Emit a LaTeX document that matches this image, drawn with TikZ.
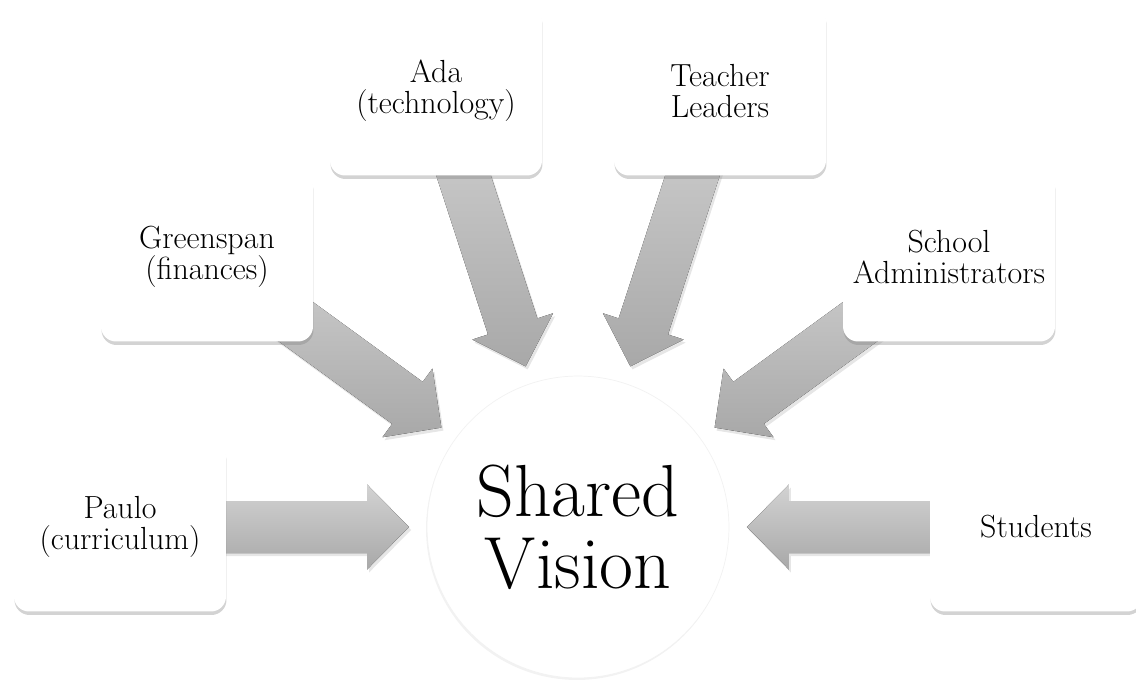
\documentclass[tikz,border=0pt]{standalone}
\usetikzlibrary{calc,shadows,backgrounds}

\begin{document}
\begin{tikzpicture}[x=0.02cm, y=-0.02cm,
    box/.style={rectangle, rounded corners=0.3cm, fill=white, minimum width=4.24cm,
      minimum height=3.38cm, align=center, font=\fontsize{18.2}{17.5}\selectfont,
      drop shadow={shadow xshift=0.01cm, shadow yshift=-0.07cm, opacity=0.35}},
    hub/.style={circle, fill=white, draw=gray!10, minimum size=6.04cm, inner sep=0pt,
      align=center, font=\fontsize{42}{41}\selectfont,
      drop shadow={shadow xshift=-0.02cm, shadow yshift=-0.04cm, opacity=0.1}},
    feed/.style={top color=gray!35, bottom color=gray!68,
      drop shadow={shadow xshift=0.04cm, shadow yshift=-0.06cm, opacity=0.2}}]
      \useasboundingbox (0,0) rectangle (1136,680);

      % Nodes
      \node[hub] (vision) at (578,527) {Shared\\Vision};
      \node[box] (paulo) at (120,527) {Paulo\\(curriculum)};
      \node[box] (greenspan) at (207,257) {Greenspan\\(finances)};
      \node[box] (ada) at (436,91) {Ada\\(technology)};
      \node[box] (teacher) at (720,91) {Teacher\\Leaders};
      \node[box] (school) at (949,257) {School\\Administrators};
      \node[box] (students) at (1036,527) {Students};

      % Arrows
      \begin{scope}[on background layer]
      \foreach \src in {paulo,greenspan,ada,teacher,school,students}
        \fill[feed] ($(vision)!3.38cm!(\src)$)
          -- ($(vision)!4.22cm!(\src)!0.85cm!90:(vision)$)
          -- ($(vision)!4.22cm!(\src)!0.52cm!90:(vision)$)
          -- ($(\src)!0.52cm!90:(vision)$)
          -- ($(\src)!0.52cm!-90:(vision)$)
          -- ($(vision)!4.22cm!(\src)!0.52cm!-90:(vision)$)
          -- ($(vision)!4.22cm!(\src)!0.85cm!-90:(vision)$)
          -- cycle;
      \end{scope}

  \end{tikzpicture}
\end{document}
